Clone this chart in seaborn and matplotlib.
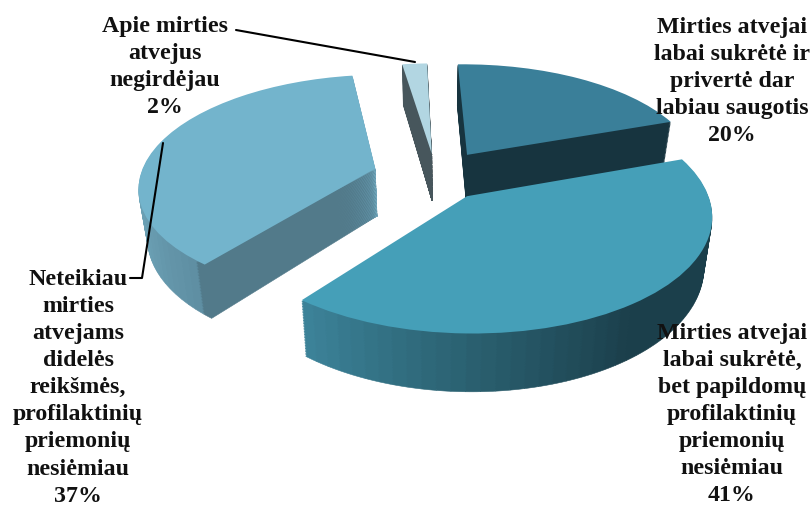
import numpy as np
import matplotlib
matplotlib.use("Agg")
import matplotlib.pyplot as plt
import seaborn as sns
from matplotlib.colors import LinearSegmentedColormap
from matplotlib.transforms import Transform

# ---- data ----
labels = [
    "Mirties atvejai\nlabai sukrėtė ir\nprivertė dar\nlabiau saugotis\n20%",
    "Mirties atvejai\nlabai sukrėtė,\nbet papildomų\nprofilaktinių\npriemonių\nnesiėmiau\n41%",
    "Neteikiau\nmirties\natvejams\ndidelės\nreikšmės,\nprofilaktinių\npriemonių\nnesiėmiau\n37%",
    "Apie mirties\natvejus\nnegirdėjau\n2%",
]
shares = [20, 41, 37, 2]
explode = [0.24, 0.22, 0.27, 0.21]
top_colors = ["#3a7f99", "#459fb8", "#73b4cc", "#b2d6e2"]
side_ramps = [
    [(0, "#17343f"), (1, "#17343f")],
    [(0, "#1c4450"), (0.25, "#1b3f4b"), (0.5, "#1b3f4b"), (0.75, "#2a6070"), (1, "#3c8298")],
    [(0, "#527a8a"), (0.01, "#527a8a"), (0.015, "#5f8fa3"), (0.3, "#6fa6ba"), (1, "#76a9bf")],
    [(0, "#47565c"), (1, "#47565c")],
]
label_pos = [(732, 17), (732, 323), (78, 269), (165, 16)]
leaders = [([236, 415], [30, 62]), ([130, 142, 163], [278, 278, 143])]

# ---- layout ----
CX, CY, RX, RY, P = 436, 176, 235, 110, 0.15
DEPTH, LAYERS, SUBS, SHRINK = 48, 36, 48, 0.03
START = 91.5
W, H = 811, 507


class Perspective(Transform):
    """Tilted view of the pie plane, measured in figure pixels."""
    input_dims = output_dims = 2
    is_separable = False
    has_inverse = False

    def __init__(self, shift=(0.0, 0.0), drop=0.0):
        super().__init__()
        self.shift = shift
        self.drop = drop

    def transform_non_affine(self, values):
        x, y = np.asarray(values).T
        x = x + self.shift[0]
        y = y + self.shift[1]
        w = 1 + P * y
        scale = 1 - SHRINK * self.drop / DEPTH
        return np.column_stack([CX + RX * scale * x / w,
                                CY + (self.drop - RY * y) / w])


sns.set_theme(style="white")
plt.rcParams["font.family"] = ["Liberation Serif", "DejaVu Serif"]
fig = plt.figure(figsize=(W / 100, H / 100), dpi=100)
ax = fig.add_axes([0, 0, 1, 1])

ends = np.cumsum(shares) / np.sum(shares)
mids = ends - np.array(shares) / np.sum(shares) / 2
angles = np.deg2rad(START - 360 * mids)
shifts = [(e * np.cos(a), e * np.sin(a)) for e, a in zip(explode, angles)]

sub_values, sub_colors, sub_owner = [], [], []
draw_order = {0: 1, 3: 2, 2: 3, 1: 4}
for i, share in enumerate(shares):
    cmap = LinearSegmentedColormap.from_list("side", side_ramps[i])
    sub_values += [share / SUBS] * SUBS
    sub_colors += [cmap(t) for t in np.linspace(0, 1, SUBS)]
    sub_owner += [i] * SUBS

for k in range(LAYERS, 0, -1):
    wedges, _ = ax.pie(sub_values, colors=sub_colors,
                       startangle=START, counterclock=False, radius=1,
                       wedgeprops={"linewidth": 0.4})
    drop = DEPTH * k / LAYERS
    for wedge, color, owner in zip(wedges, sub_colors, sub_owner):
        wedge.set_transform(Perspective(shifts[owner], drop) + ax.transData)
        wedge.set_edgecolor(color)
        wedge.set_zorder(draw_order[owner] + (LAYERS - k) / (LAYERS + 1))

wedges, _ = ax.pie(shares, colors=top_colors,
                   startangle=START, counterclock=False, radius=1,
                   wedgeprops={"linewidth": 0})
for i, wedge in enumerate(wedges):
    wedge.set_transform(Perspective(shifts[i], 0) + ax.transData)
    wedge.set_zorder(draw_order[i] + 0.99)

ax.set_aspect("auto")
ax.set_xlim(0, W)
ax.set_ylim(H, 0)
ax.set_axis_off()

for xs, ys in leaders:
    ax.plot(xs, ys, color="black", lw=1.5, zorder=8)
for text, (x, y) in zip(labels, label_pos):
    ax.text(x, y, text, ha="center", va="top", fontsize=17.2, fontweight="bold",
            color="#111111", linespacing=1.38, zorder=9)

fig.savefig("out.png", dpi=100)
